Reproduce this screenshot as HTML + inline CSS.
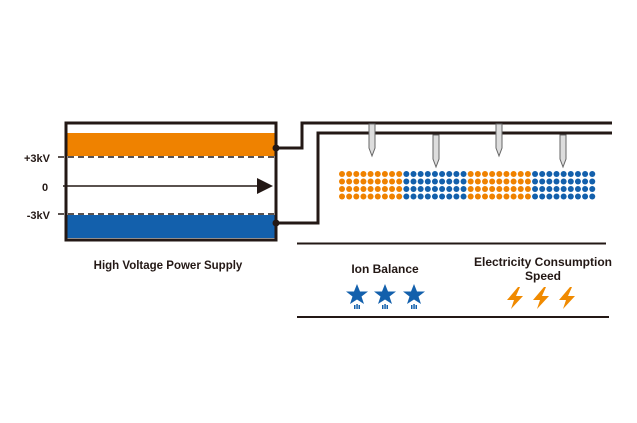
<!DOCTYPE html>
<html><head><style>
body{margin:0;background:#fff;width:637px;height:418px;overflow:hidden}
svg text{font-family:"Liberation Sans",sans-serif;font-weight:bold;fill:#231815}
</style></head><body>
<svg width="637" height="418" viewBox="0 0 637 418" xmlns="http://www.w3.org/2000/svg">
<rect x="66" y="123" width="210" height="117" fill="#fff" stroke="#231815" stroke-width="3"/>
<rect x="67.5" y="133" width="207" height="23" fill="#EF8200"/>
<rect x="67.5" y="215" width="207" height="23" fill="#1360AC"/>
<line x1="58" y1="157" x2="275" y2="157" stroke="#231815" stroke-width="1.5" stroke-dasharray="6,4"/>
<line x1="58" y1="214" x2="275" y2="214" stroke="#231815" stroke-width="1.5" stroke-dasharray="6,4"/>
<line x1="63" y1="186" x2="258" y2="186" stroke="#231815" stroke-width="1.5"/>
<polygon points="257,178 273,186 257,194" fill="#231815"/>
<text x="50" y="162" font-size="11" text-anchor="end">+3kV</text>
<text x="45" y="191" font-size="11" text-anchor="middle">0</text>
<text x="50" y="219" font-size="11" text-anchor="end">-3kV</text>
<text x="168" y="269" font-size="11.5" text-anchor="middle">High Voltage Power Supply</text>
<polyline points="276,148 302,148 302,123 612,123" fill="none" stroke="#231815" stroke-width="3"/>
<polyline points="276,223 318,223 318,133 612,133" fill="none" stroke="#231815" stroke-width="3"/>
<circle cx="276" cy="148" r="3.5" fill="#231815"/>
<circle cx="276" cy="223" r="3.5" fill="#231815"/>
<g fill="#ddd" stroke="#666" stroke-width="1">
<polygon points="369,124 375,124 375,148 372,156 369,148"/>
<polygon points="433,135 439,135 439,159 436,167 433,159"/>
<polygon points="496,124 502,124 502,148 499,156 496,148"/>
<polygon points="560,135 566,135 566,159 563,167 560,159"/>
</g>
<g id="dots"></g>
<line x1="297" y1="243.5" x2="606" y2="243.5" stroke="#231815" stroke-width="2"/>
<line x1="297" y1="317" x2="609" y2="317" stroke="#231815" stroke-width="2"/>
<text x="385" y="273" font-size="12" text-anchor="middle">Ion Balance</text>
<text x="543" y="266" font-size="12" text-anchor="middle">Electricity Consumption</text>
<text x="543" y="280" font-size="12" text-anchor="middle">Speed</text>
<g fill="#1360AC">
<g transform="translate(357,295)"><polygon points="0,-11 3,-3.5 11,-3.5 4.5,1.5 7,9 0,4.5 -7,9 -4.5,1.5 -11,-3.5 -3,-3.5"/><rect x="-3" y="10" width="1.5" height="4"/><rect x="-0.7" y="9" width="1.5" height="5"/><rect x="1.5" y="10" width="1.5" height="4"/></g>
<g transform="translate(385,295)"><polygon points="0,-11 3,-3.5 11,-3.5 4.5,1.5 7,9 0,4.5 -7,9 -4.5,1.5 -11,-3.5 -3,-3.5"/><rect x="-3" y="10" width="1.5" height="4"/><rect x="-0.7" y="9" width="1.5" height="5"/><rect x="1.5" y="10" width="1.5" height="4"/></g>
<g transform="translate(414,295)"><polygon points="0,-11 3,-3.5 11,-3.5 4.5,1.5 7,9 0,4.5 -7,9 -4.5,1.5 -11,-3.5 -3,-3.5"/><rect x="-3" y="10" width="1.5" height="4"/><rect x="-0.7" y="9" width="1.5" height="5"/><rect x="1.5" y="10" width="1.5" height="4"/></g>
</g>
<g fill="#F08A00">
<polygon transform="translate(515,298)" points="3,-11 -8,2 -1,2 -4,11 8,-2 1,-2 5,-11"/>
<polygon transform="translate(541,298)" points="3,-11 -8,2 -1,2 -4,11 8,-2 1,-2 5,-11"/>
<polygon transform="translate(567,298)" points="3,-11 -8,2 -1,2 -4,11 8,-2 1,-2 5,-11"/>
</g>
</svg>
<script>
var g=document.getElementById('dots'),s='';
var ys=[174,181.5,189,196.5];
for(var c=0;c<36;c++){var x=342+c*7.15;var col=(Math.floor(c/9)%2==0)?'#EF8200':'#1360AC';
for(var r=0;r<4;r++)s+='<circle cx="'+x.toFixed(2)+'" cy="'+ys[r]+'" r="3" fill="'+col+'"/>';}
g.innerHTML=s;
</script>
</body></html>
